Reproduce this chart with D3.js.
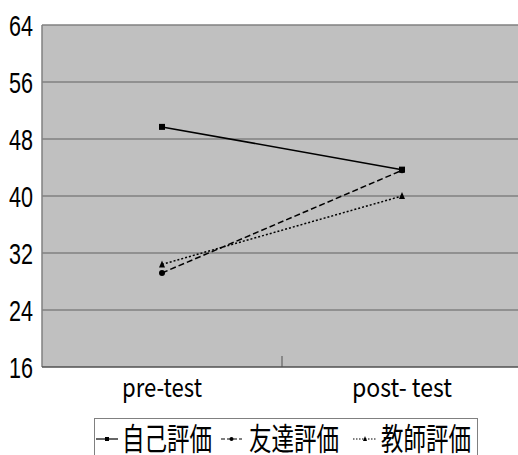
<!DOCTYPE html>
<html><head><meta charset="utf-8">
<script src="https://cdn.jsdelivr.net/npm/d3@7"></script>
<style>html,body{margin:0;padding:0;background:#fff;}svg{display:block;}</style>
</head><body>
<script>
const categories = ["pre-test", "post- test"];
const seriesNames = ["自己評価", "友達評価", "教師評価"];
const selfEval = [49.7, 43.7];
const peerEval = [29.2, 43.6];
const teacherEval = [30.4, 40.0];
const yTicks = [16, 24, 32, 40, 48, 56, 64];

const W = 518, H = 455;
const svg = d3.select("body").append("svg").attr("width", W).attr("height", H);

const pLeft = 42, pTop = 25, pBottom = 367, pRight = 522;
const x = d3.scalePoint().domain(categories).range([pLeft, pRight]).padding(0.5);
const y = d3.scaleLinear().domain([16, 64]).range([pBottom, pTop]);

// plot background
svg.append("rect").attr("x", pLeft).attr("y", pTop).attr("width", pRight - pLeft).attr("height", pBottom - pTop).attr("fill", "#c0c0c0");

// gridlines
svg.append("g").selectAll("line").data(yTicks.filter(d => d > 16)).join("line")
  .attr("x1", pLeft).attr("x2", pRight).attr("y1", d => y(d)).attr("y2", d => y(d))
  .attr("stroke", "#808080").attr("stroke-width", 1.5);

// axes lines
svg.append("line").attr("x1", pLeft).attr("x2", pLeft).attr("y1", pTop).attr("y2", pBottom).attr("stroke", "#808080").attr("stroke-width", 1.5);
svg.append("line").attr("x1", pLeft).attr("x2", pRight).attr("y1", pBottom).attr("y2", pBottom).attr("stroke", "#505050").attr("stroke-width", 1.5);

// middle category tick
const step = x.step();
svg.append("line").attr("x1", x(categories[0]) + step / 2).attr("x2", x(categories[0]) + step / 2)
  .attr("y1", pBottom - 11).attr("y2", pBottom).attr("stroke", "#505050").attr("stroke-width", 1);

// y tick labels
svg.append("g").selectAll("text").data(yTicks).join("text")
  .attr("x", 33).attr("y", d => y(d) + 11)
  .attr("text-anchor", "end")
  .attr("font-family", "'Liberation Sans Narrow', 'Liberation Sans', Arial, sans-serif")
  .attr("font-size", 30)
  .attr("textLength", 24).attr("lengthAdjust", "spacingAndGlyphs")
  .attr("fill", "#000")
  .text(d => d);

// x labels
const xLabelWidths = [80, 100];
svg.append("g").selectAll("text").data(categories).join("text")
  .attr("x", (d, i) => x(d) - xLabelWidths[i] / 2)
  .attr("y", 397)
  .attr("font-family", "'Noto Sans CJK JP', sans-serif")
  .attr("font-size", 26)
  .attr("textLength", (d, i) => xLabelWidths[i]).attr("lengthAdjust", "spacingAndGlyphs")
  .attr("fill", "#000")
  .text(d => d);

// series
const series = [
  { name: seriesNames[0], values: selfEval, dash: null, marker: "square" },
  { name: seriesNames[1], values: peerEval, dash: "6,3", marker: "circle" },
  { name: seriesNames[2], values: teacherEval, dash: "2,2", marker: "triangle" }
];
const line = d3.line().x((d, i) => x(categories[i])).y(d => y(d));

function drawMarker(g, type, cx, cy, s) {
  if (type === "square") {
    g.append("rect").attr("x", cx - s / 2).attr("y", cy - s / 2).attr("width", s).attr("height", s).attr("fill", "#000");
  } else if (type === "circle") {
    g.append("circle").attr("cx", cx).attr("cy", cy).attr("r", s / 2).attr("fill", "#000");
  } else {
    g.append("path").attr("d", `M${cx},${cy - s / 2 - 1}L${cx + s / 2},${cy + s / 2}L${cx - s / 2},${cy + s / 2}Z`).attr("fill", "#000");
  }
}

series.forEach(s => {
  svg.append("path").attr("d", line(s.values)).attr("fill", "none").attr("stroke", "#000")
    .attr("stroke-width", 1.5).attr("stroke-dasharray", s.dash);
});
series.forEach(s => {
  const g = svg.append("g");
  s.values.forEach((v, i) => drawMarker(g, s.marker, x(categories[i]), y(v), 6));
});

// legend
const lg = svg.append("g");
lg.append("rect").attr("x", 94.5).attr("y", 418.5).attr("width", 383).attr("height", 50)
  .attr("fill", "#fff").attr("stroke", "#808080").attr("stroke-width", 1);
const legendItems = [
  { sx: 96, ex: 118, tx: 122 },
  { sx: 221, ex: 242, tx: 249 },
  { sx: 353, ex: 377, tx: 381 }
];
series.forEach((s, i) => {
  const it = legendItems[i];
  const ly = 439;
  lg.append("line").attr("x1", it.sx).attr("x2", it.ex).attr("y1", ly).attr("y2", ly)
    .attr("stroke", "#000").attr("stroke-width", 1.2).attr("stroke-dasharray", s.dash ? (i === 1 ? "4,2" : "1.5,1.5") : null);
  drawMarker(lg, s.marker, (it.sx + it.ex) / 2, ly, 4);
  lg.append("text").attr("x", it.tx).attr("y", 450)
    .attr("font-family", "'Noto Sans CJK JP', sans-serif")
    .attr("font-size", 31)
    .attr("textLength", 90).attr("lengthAdjust", "spacingAndGlyphs")
    .attr("fill", "#000")
    .text(s.name);
});
</script>
</body></html>
